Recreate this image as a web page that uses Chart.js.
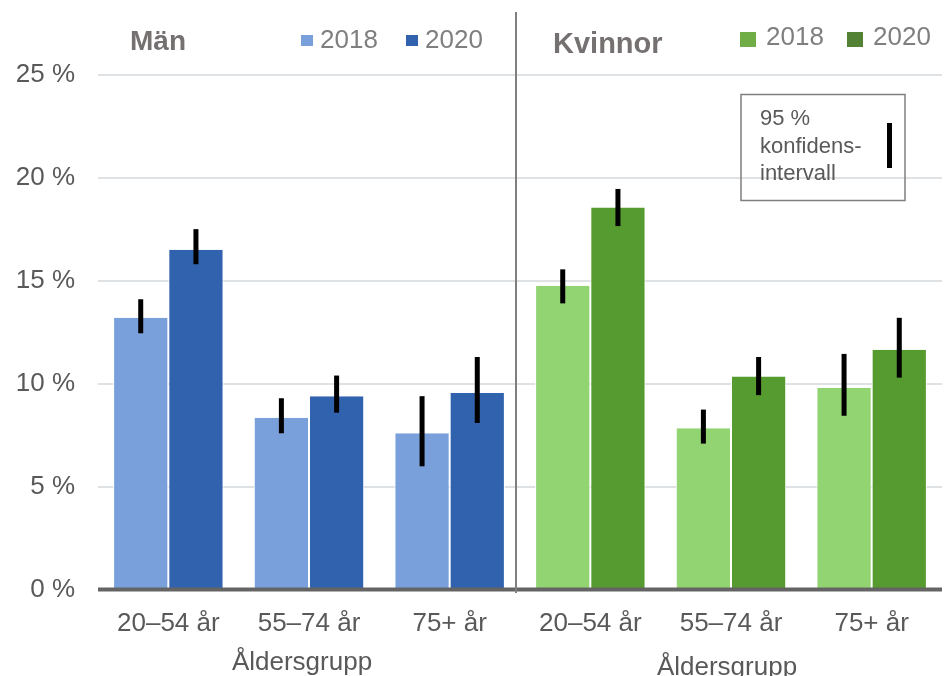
<!DOCTYPE html>
<html>
<head>
<meta charset="utf-8">
<script src="https://cdn.jsdelivr.net/npm/chart.js@4"></script>
<style>
  html, body { margin: 0; padding: 0; background: #fff; }
  #wrap { width: 949px; height: 676px; }
</style>
</head>
<body>
<div id="wrap"><canvas id="chart" width="949" height="676"></canvas></div>
<script>
// Kategorier: Män (0-2) och Kvinnor (3-5)
const categories = ['20–54 år', '55–74 år', '75+ år', '20–54 år', '55–74 år', '75+ år'];
const groupNames = ['Män', 'Kvinnor'];
const seriesLabels = ['2018', '2020'];

// Andel i procent
const values2018 = [13.2, 8.35, 7.6, 14.75, 7.85, 9.8];
const values2020 = [16.5, 9.4, 9.55, 18.55, 10.35, 11.65];

// 95 % konfidensintervall (nedre / övre)
const lo2018 = [12.45, 7.6, 6.0, 13.9, 7.1, 8.45];
const hi2018 = [14.1, 9.3, 9.4, 15.55, 8.75, 11.45];
const lo2020 = [15.8, 8.6, 8.1, 17.65, 9.45, 10.3];
const hi2020 = [17.5, 10.4, 11.3, 19.45, 11.3, 13.2];

const yTicks = [0, 5, 10, 15, 20, 25];

const FONT = "'Liberation Sans', Arial, sans-serif";
const colors2018 = ['#7aa0db', '#7aa0db', '#7aa0db', '#92d372', '#92d372', '#92d372'];
const colors2020 = ['#3062ae', '#3062ae', '#3062ae', '#559b2f', '#559b2f', '#559b2f'];
const legendColors = [['#7aa0db', '#3062ae'], ['#70ad47', '#548235']];

/**
 * Felstaplar, skiljelinje, x-axel, gruppnamn och teckenförklaringar
 */
const extrasPlugin = {
    id: 'extras',
    afterDatasetsDraw(chart) {
        const ctx = chart.ctx;
        const x = chart.scales.x;
        const y = chart.scales.y;
        const area = chart.chartArea;

        // Felstaplar
        const ranges = [[lo2018, hi2018], [lo2020, hi2020]];
        ctx.save();
        ctx.fillStyle = '#000';
        ranges.forEach((r, di) => {
            const meta = chart.getDatasetMeta(di);
            meta.data.forEach((bar, i) => {
                const top = y.getPixelForValue(r[1][i]);
                const bot = y.getPixelForValue(r[0][i]);
                ctx.fillRect(bar.x - 2.5, top, 5, bot - top);
            });
        });

        // X-axel
        const y0 = y.getPixelForValue(0);
        ctx.fillStyle = '#646464';
        ctx.fillRect(area.left, y0 - 2.5, area.right - area.left, 4);

        // Skiljelinje mellan Män och Kvinnor
        const mid = (x.getPixelForValue(2) + x.getPixelForValue(3)) / 2 - 4;
        ctx.fillStyle = '#7f7f7f';
        ctx.fillRect(mid - 1, 12, 2, y0 + 3 - 12);

        // Gruppnamn
        ctx.fillStyle = '#767171';
        ctx.textBaseline = 'alphabetic';
        ctx.textAlign = 'left';
        ctx.font = `bold 28px ${FONT}`;
        ctx.fillText(groupNames[0], 130, 50);
        ctx.font = `bold 29px ${FONT}`;
        ctx.fillText(groupNames[1], 553, 53);

        // Teckenförklaring Män
        ctx.font = `26px ${FONT}`;
        ctx.fillStyle = legendColors[0][0];
        ctx.fillRect(301, 35, 12, 11);
        ctx.fillStyle = legendColors[0][1];
        ctx.fillRect(406, 35, 12, 11);
        ctx.fillStyle = '#7f7f7f';
        ctx.fillText(seriesLabels[0], 320, 48);
        ctx.fillText(seriesLabels[1], 425, 48);

        // Teckenförklaring Kvinnor
        ctx.fillStyle = legendColors[1][0];
        ctx.fillRect(740, 32, 16, 15);
        ctx.fillStyle = legendColors[1][1];
        ctx.fillRect(847, 32, 16, 15);
        ctx.fillStyle = '#7f7f7f';
        ctx.fillText(seriesLabels[0], 766, 45);
        ctx.fillText(seriesLabels[1], 873, 45);

        // Ruta för konfidensintervall
        ctx.strokeStyle = '#7f7f7f';
        ctx.lineWidth = 1.5;
        ctx.strokeRect(741, 94.5, 164, 106);
        ctx.fillStyle = '#595959';
        ctx.font = `22px ${FONT}`;
        ctx.fillText('95 %', 760, 125);
        ctx.fillText('konfidens-', 760, 153);
        ctx.fillText('intervall', 760, 180);
        ctx.fillStyle = '#000';
        ctx.fillRect(887, 123, 5, 45);

        // Axeltitlar
        ctx.fillStyle = '#595959';
        ctx.font = `26px ${FONT}`;
        ctx.textAlign = 'center';
        ctx.fillText('Åldersgrupp', 302, 670);
        ctx.fillText('Åldersgrupp', 727, 675);
        ctx.restore();
    }
};

const ctx = document.getElementById('chart').getContext('2d');
new Chart(ctx, {
    type: 'bar',
    data: {
        labels: categories,
        datasets: [
            {
                label: seriesLabels[0],
                data: values2018,
                backgroundColor: colors2018,
                borderColor: '#fff',
                borderWidth: { left: 1, right: 1, top: 0, bottom: 0 },
                categoryPercentage: 0.785,
                barPercentage: 1.0
            },
            {
                label: seriesLabels[1],
                data: values2020,
                backgroundColor: colors2020,
                borderColor: '#fff',
                borderWidth: { left: 1, right: 1, top: 0, bottom: 0 },
                categoryPercentage: 0.785,
                barPercentage: 1.0
            }
        ]
    },
    options: {
        responsive: false,
        animation: false,
        devicePixelRatio: 1,
        layout: { padding: { top: 74.5, right: 7, left: 0, bottom: 0 } },
        plugins: {
            legend: { display: false },
            tooltip: { enabled: false }
        },
        scales: {
            x: {
                grid: { display: false, drawTicks: false },
                border: { display: false },
                ticks: {
                    color: '#595959',
                    font: { family: FONT, size: 26 },
                    padding: 18,
                    maxRotation: 0,
                    autoSkip: false
                },
                afterFit: s => { s.height = 86; }
            },
            y: {
                min: 0,
                max: 25,
                afterBuildTicks: s => { s.ticks = yTicks.map(v => ({ value: v })); },
                grid: { color: '#dfe2e5', lineWidth: 2, drawTicks: false },
                border: { display: false },
                ticks: {
                    color: '#595959',
                    font: { family: FONT, size: 26 },
                    padding: 23,
                    callback: v => v + ' %'
                },
                afterFit: s => { s.width = 98; }
            }
        }
    },
    plugins: [extrasPlugin]
});
</script>
</body>
</html>
